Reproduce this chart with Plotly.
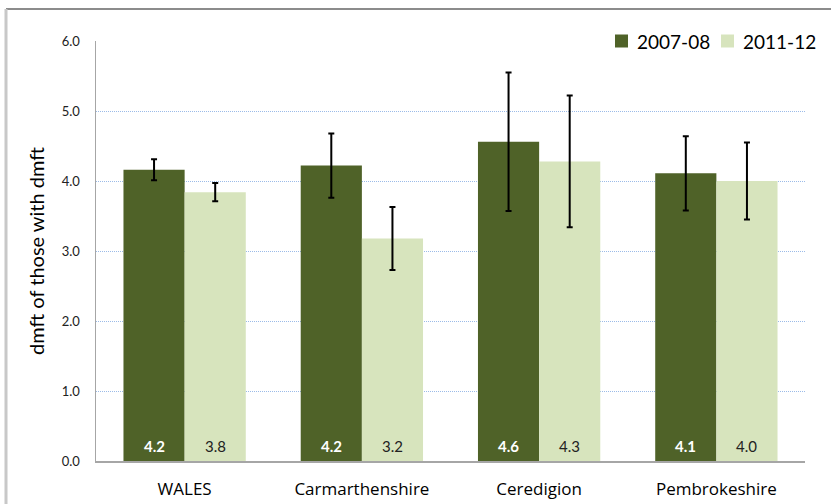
import plotly.graph_objects as go

# Mean dmft among children with any decay, by area and survey year
areas = ["WALES", "Carmarthenshire", "Ceredigion", "Pembrokeshire"]
dmft_2007 = [4.16, 4.22, 4.56, 4.11]
ci_2007 = [0.15, 0.46, 0.99, 0.53]
dmft_2011 = [3.84, 3.18, 4.28, 4.00]
ci_2011 = [0.13, 0.45, 0.94, 0.55]
series_names = ["2007-08", "2011-12"]
y_ticks = [0, 1, 2, 3, 4, 5, 6]

FONT = "Lato, Carlito, Calibri, sans-serif"
DARK = "#4f6228"
LIGHT = "#d7e4bd"

# plot area in pixels: x 96..805, y 41..461
PW, PH = 709, 420


def px_x(p):
    return (p - 96) / PW


def px_y(p):
    return (461 - p) / PH


fig = go.Figure()
for name, vals, err, col in [(series_names[0], dmft_2007, ci_2007, DARK),
                             (series_names[1], dmft_2011, ci_2011, LIGHT)]:
    fig.add_trace(go.Bar(
        name=name, x=areas, y=vals,
        marker=dict(color=col, line=dict(width=0)),
        error_y=dict(type="data", array=err, color="black", thickness=2, width=3),
        hoverinfo="skip", showlegend=False,
    ))

# value labels at the foot of each bar
for vals, shift, colr, bold in [(dmft_2007, -30.5, "white", True),
                                (dmft_2011, 30.5, "#222222", False)]:
    for a, v in zip(areas, vals):
        txt = f"{v:.1f}"
        fig.add_annotation(x=a, y=0, xshift=shift, yshift=4, yanchor="bottom",
                           text=f"<b>{txt}</b>" if bold else txt, showarrow=False,
                           font=dict(size=15, family=FONT, color=colr))

# legend drawn as swatches + labels
for i, (name, col) in enumerate(zip(series_names, [DARK, LIGHT])):
    x0 = 615 + i * 106
    fig.add_shape(type="rect", xref="paper", yref="paper",
                  x0=px_x(x0), x1=px_x(x0 + 13), y0=px_y(47.5), y1=px_y(34.5),
                  fillcolor=col, line=dict(width=0))
    fig.add_annotation(xref="paper", yref="paper", x=px_x(x0 + 20), y=px_y(41),
                       xanchor="left", yanchor="middle", text=name, showarrow=False,
                       font=dict(size=19, family=FONT, color="black"))

# outer frame edges
fig.add_shape(type="line", xref="paper", yref="paper",
              x0=px_x(6), x1=px_x(840), y0=px_y(9), y1=px_y(9),
              line=dict(color="#8c8c8c", width=2))
fig.add_shape(type="line", xref="paper", yref="paper",
              x0=px_x(6), x1=px_x(6), y0=px_y(520), y1=px_y(9),
              line=dict(color="#c8c8c8", width=3))

fig.update_layout(
    width=831, height=504,
    margin=dict(l=96, r=26, t=41, b=43, autoexpand=False),
    paper_bgcolor="white", plot_bgcolor="rgba(0,0,0,0)",
    barmode="group", bargap=0.31, bargroupgap=0,
    font=dict(family=FONT, color="#222222"),
    showlegend=False,
    xaxis=dict(range=[-0.5, 3.5], showgrid=False, zeroline=False, mirror=False,
               automargin=False, showline=True, linecolor="#a6a6a6", linewidth=1.5,
               ticks="", ticklabelstandoff=12,
               tickfont=dict(size=17, family="Open Sans", color="black")),
    yaxis=dict(range=[0, 6], tickvals=y_ticks, tickformat=".1f", automargin=False,
               showgrid=True, gridcolor="#9bbbe8", griddash="1px,1px", gridwidth=1,
               showline=True, linecolor="#a6a6a6", linewidth=1.5, mirror=False,
               zeroline=False, ticks="", ticklabelstandoff=12,
               tickfont=dict(size=13, family=FONT, color="#222222"),
               title=dict(text="dmft of those with dmft", standoff=11,
                          font=dict(size=20, family=FONT, color="black"))),
)

fig.write_html("out.html", config={"staticPlot": True})
